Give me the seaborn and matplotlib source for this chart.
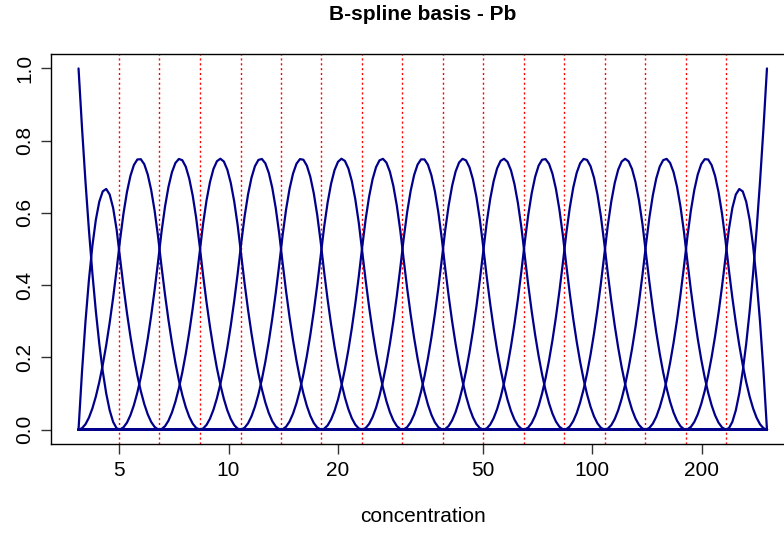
import numpy as np
import pandas as pd
import matplotlib
matplotlib.use("Agg")
import matplotlib.pyplot as plt
import seaborn as sns

# Knot locations (concentration units)
boundary_knots = [3.87, 302.0]
interior_knots = [5.00, 6.46, 8.35, 10.79, 13.94, 18.01, 23.27, 30.07, 38.86,
                  50.21, 64.88, 83.83, 108.3, 140.0, 180.9, 233.7]
x_ticks = [5, 10, 20, 50, 100, 200]
y_ticks = [0.0, 0.2, 0.4, 0.6, 0.8, 1.0]
degree = 2
n_grid = 200

def bspline_basis(u, knots_all, k):
    # Cox-de Boor recursion
    t = np.asarray(knots_all)
    m = len(t) - 1
    B = np.zeros((len(u), m))
    for i in range(m):
        if t[i] < t[i + 1]:
            B[:, i] = ((u >= t[i]) & (u < t[i + 1])).astype(float)
    last = np.max(np.where(t[:-1] < t[1:])[0])
    B[u >= t[-1], last] = 1.0
    for d in range(1, k + 1):
        Bn = np.zeros((len(u), m - d))
        for i in range(m - d):
            a = t[i + d] - t[i]
            b = t[i + d + 1] - t[i + 1]
            term = 0.0
            if a > 0:
                term = term + (u - t[i]) / a * B[:, i]
            if b > 0:
                term = term + (t[i + d + 1] - u) / b * B[:, i + 1]
            Bn[:, i] = term
        B = Bn
    return B

lo, hi = np.log10(boundary_knots[0]), np.log10(boundary_knots[1])
knots_log = np.concatenate([[lo] * (degree + 1), np.log10(interior_knots), [hi] * (degree + 1)])
u = np.linspace(lo, hi, n_grid)
B = bspline_basis(u, knots_log, degree)
conc = 10 ** u

frames = []
for j in range(B.shape[1]):
    frames.append(pd.DataFrame({"concentration": conc, "value": B[:, j], "basis": j}))
df = pd.concat(frames, ignore_index=True)

sns.set_style("white")
plt.rcParams["font.family"] = ["Liberation Sans", "DejaVu Sans"]
plt.rcParams["text.color"] = "black"
plt.rcParams["axes.labelcolor"] = "black"
plt.rcParams["xtick.color"] = "black"
plt.rcParams["ytick.color"] = "black"

W, H = 784, 533
fig = plt.figure(figsize=(W / 100, H / 100), dpi=100)
ax = fig.add_axes([51 / W, 89 / H, (794.5 - 51) / W, 390 / H])

for xk in interior_knots:
    ax.axvline(xk, color="red", lw=1, linestyle=(0, (1.5, 2)), zorder=1)

sns.lineplot(data=df, x="concentration", y="value", hue="basis",
             palette=["#00008B"] * B.shape[1], estimator=None, sort=False,
             lw=1.6, legend=False, ax=ax, zorder=2)

ax.set_xscale("log")
span = hi - lo
ax.set_xlim(10 ** (lo - 0.04 * span), 10 ** (hi + 0.04 * span))
ax.set_ylim(-0.04, 1.04)
ax.set_xticks(x_ticks)
ax.set_xticklabels([str(v) for v in x_ticks])
ax.xaxis.set_minor_locator(matplotlib.ticker.NullLocator())
ax.set_yticks(y_ticks)
ax.set_yticklabels([f"{v:.1f}" for v in y_ticks], rotation=90, va="center")
ax.tick_params(axis="both", direction="out", length=7, width=1, color="#333333",
               labelcolor="black", labelsize=15, pad=5, bottom=True, left=True)
for s in ax.spines.values():
    s.set_color("black")
    s.set_linewidth(1)

ax.set_xlabel("concentration", fontsize=15, labelpad=20, color="black")
ax.set_ylabel("")
fig.text(422.7 / W, 1 - 14 / H, "B-spline basis - Pb", ha="center", va="center",
         fontsize=15, fontweight="bold", color="black")

fig.savefig("out.png", dpi=100)
